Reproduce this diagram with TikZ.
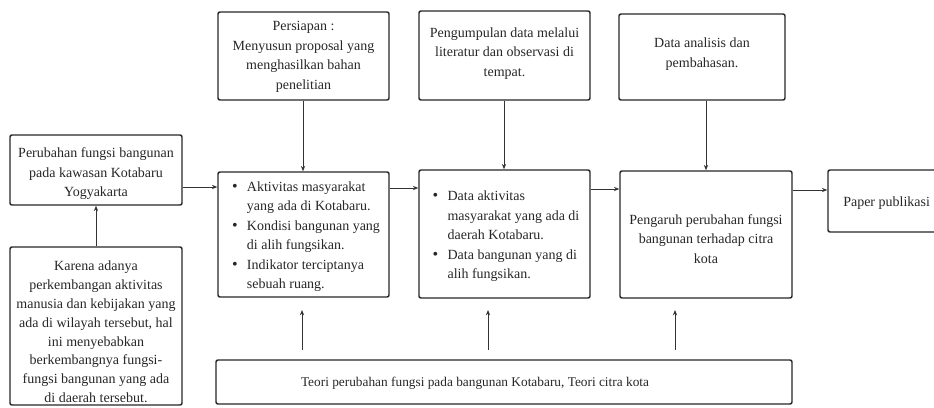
\documentclass[tikz,border=0pt]{standalone}
\usepackage{fontspec}
\setmainfont{Liberation Serif}
\usetikzlibrary{fit,arrows.meta}
\newcommand{\bul}{{\large\textbullet}}
\begin{document}
\begin{tikzpicture}[x=0.75pt,y=-0.75pt,
  box/.style={draw=black!85, line width=1.1pt, rounded corners=1.5pt, inner sep=0pt},
  txt/.style={inner sep=0pt, align=center, text=black!85, font=\fontsize{10.5}{14.6}\selectfont},
  arr/.style={draw=black!80, line width=0.75pt, -{Stealth[length=4pt,width=3.2pt]}}]
\useasboundingbox (0,0) rectangle (934,407);

% boxes
\node[box, fit={(10,135)(182,205)}] (A) {};
\node[box, fit={(10,247)(182,405)}] (B) {};
\node[box, fit={(218,12)(389,100)}] (C) {};
\node[box, fit={(419,11)(590,100)}] (E) {};
\node[box, fit={(619,14)(785,100)}] (G) {};
\node[box, fit={(218,172)(389,297)}] (D) {};
\node[box, fit={(419,170)(590,298)}] (F) {};
\node[box, fit={(620,171)(792,298)}] (H) {};
\node[box, fit={(828,170)(945,232)}] (I) {};
\node[box, fit={(216,360)(792,404)}] (J) {};

% texts
\node[txt] (At) at (96,174) {Perubahan fungsi bangunan\\pada kawasan Kotabaru\\Yogyakarta};
\node[txt, font=\fontsize{10.5}{14.1}\selectfont] (Bt) at (96,332) {Karena adanya\\perkembangan aktivitas\\manusia dan kebijakan yang\\ada di wilayah tersebut, hal\\ini menyebabkan\\berkembangnya fungsi-\\fungsi bangunan yang ada\\di daerah tersebut.};
\node[txt] (Ct) at (303.5,57) {Persiapan :\\Menyusun proposal yang\\menghasilkan bahan\\penelitian};
\node[txt] (Et) at (504.5,53.5) {Pengumpulan data melalui\\literatur dan observasi di\\tempat.};
\node[txt] (Gt) at (702,54) {Data analisis dan\\pembahasan.};
\node[txt] (Dt) at (306,236) {\begin{tabular}{@{}c@{\hspace{7pt}}l@{}}
\bul & Aktivitas masyarakat\\
 & yang ada di Kotabaru.\\
\bul & Kondisi bangunan yang\\
 & di alih fungsikan.\\
\bul & Indikator terciptanya\\
 & sebuah ruang.
\end{tabular}};
\node[txt] (Ft) at (506,236) {\begin{tabular}{@{}c@{\hspace{7pt}}l@{}}
\bul & Data aktivitas\\
 & masyarakat yang ada di\\
 & daerah Kotabaru.\\
\bul & Data bangunan yang di\\
 & alih fungsikan.
\end{tabular}};
\node[txt] (Ht) at (706,239) {Pengaruh perubahan fungsi\\bangunan terhadap citra\\kota};
\node[txt, anchor=west] (It) at (843,203) {Paper publikasi};
\node[txt, font=\fontsize{10}{14}\selectfont] (Jt) at (475,383) {Teori perubahan fungsi pada bangunan Kotabaru, Teori citra kota};

% up-arrow start/end points
\coordinate (u1) at (302,350); \coordinate (v1) at (302,310);
\coordinate (u2) at (488,350); \coordinate (v2) at (488,310);
\coordinate (u3) at (675,350); \coordinate (v3) at (675,310);

% connectors
\draw[arr] (B.north) -- (A.south);
\draw[arr] (A.east |- 0,187) -- (D.west |- 0,187);
\draw[arr] (D.east |- 0,188) -- (F.west |- 0,188);
\draw[arr] (F.east |- 0,189) -- (H.west |- 0,189);
\draw[arr] (H.east |- 0,190) -- (I.west |- 0,190);
\draw[arr] (C.south -| 303,0) -- (D.north -| 303,0);
\draw[arr] (E.south -| 504,0) -- (F.north -| 504,0);
\draw[arr] (G.south -| 706,0) -- (H.north -| 706,0);
\draw[arr] (u1) -- (v1);
\draw[arr] (u2) -- (v2);
\draw[arr] (u3) -- (v3);
\end{tikzpicture}
\end{document}
